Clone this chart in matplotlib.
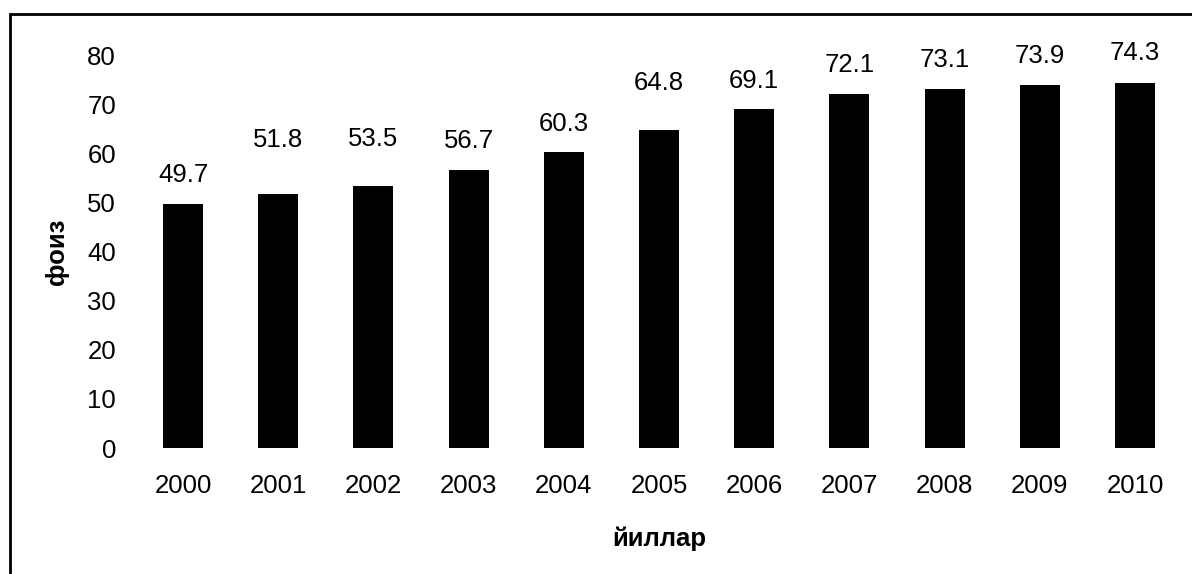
import matplotlib
matplotlib.use("Agg")
import matplotlib.pyplot as plt
from matplotlib.patches import Rectangle

years = ["2000", "2001", "2002", "2003", "2004", "2005",
         "2006", "2007", "2008", "2009", "2010"]
values = [49.7, 51.8, 53.5, 56.7, 60.3, 64.8, 69.1, 72.1, 73.1, 73.9, 74.3]
y_ticks = [0, 10, 20, 30, 40, 50, 60, 70, 80]
# label distance above bar top (pixels), as placed in the original
label_gap_px = [29, 54, 47, 29, 28, 47, 28, 29, 29, 29, 30]

plt.rcParams["font.family"] = ["Liberation Sans", "DejaVu Sans"]
FS = 18.5

fig = plt.figure(figsize=(11.92, 5.74), dpi=100)
ax = fig.add_axes([0.1136, 0.2195, 0.8785, 0.6838])

x = range(len(years))
ax.bar(x, values, width=0.42, color="black")
for xi, v, gap in zip(x, values, label_gap_px):
    ax.annotate(f"{v:.1f}", (xi, v), xytext=(0, gap * 0.72), textcoords="offset points",
                ha="center", va="center", fontsize=FS)

ax.set_xlim(-0.5, len(years) - 0.5)
ax.set_ylim(0, 80)
ax.set_yticks(y_ticks)
ax.set_xticks(list(x))
ax.set_xticklabels(years)
ax.tick_params(axis="both", length=0, labelsize=FS)
ax.tick_params(axis="x", pad=19)
ax.tick_params(axis="y", pad=14)
for s in ax.spines.values():
    s.set_visible(False)
ax.axhline(0, color="#bbbbbb", lw=0.8, ls=(0, (6, 4)), zorder=0)

ax.set_xlabel("йиллар", fontsize=FS, fontweight="bold", labelpad=20)
ax.set_ylabel("фоиз", fontsize=FS, fontweight="bold", labelpad=13)

# outer frame
fig.patches.append(Rectangle((0.0085, -0.05), 1.05, 0.05 + 0.9756, transform=fig.transFigure,
                             fill=False, edgecolor="black", lw=2))

fig.savefig("out.png", dpi=100)
